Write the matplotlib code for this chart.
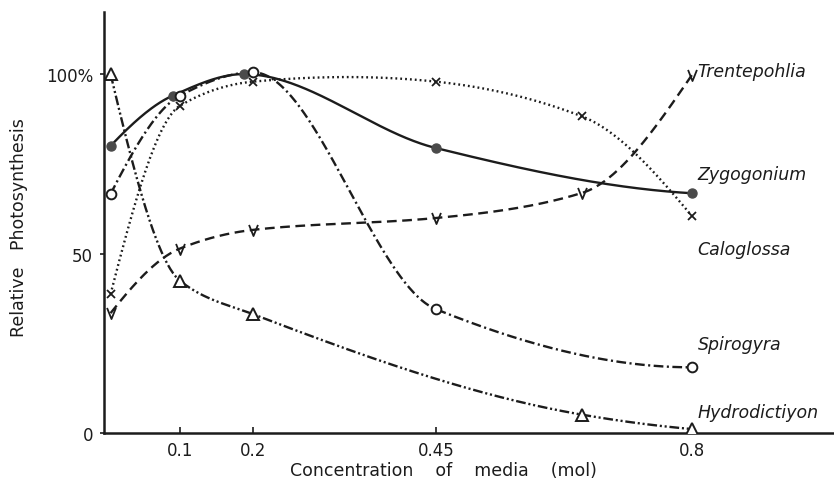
import numpy as np
import matplotlib
matplotlib.use("Agg")
import matplotlib.pyplot as plt
from matplotlib.path import Path

# ---------------- data ----------------
species = ["Trentepohlia", "Zygogonium", "Caloglossa", "Spirogyra", "Hydrodictiyon"]

trente_x = [0.005, 0.1, 0.2, 0.45, 0.65, 0.8]
trente_y = [33.4, 51.4, 56.6, 59.9, 66.9, 99.7]

zygo_x = [0.005, 0.09, 0.187, 0.45, 0.8]
zygo_y = [80.0, 94.0, 100.0, 79.4, 66.8]

calo_x = [0.005, 0.1, 0.2, 0.45, 0.65, 0.8]
calo_y = [38.7, 91.2, 97.9, 97.9, 88.2, 60.5]

spiro_x = [0.005, 0.1, 0.2, 0.45, 0.8]
spiro_y = [66.6, 94.0, 100.5, 34.5, 18.3]

hydro_x = [0.005, 0.1, 0.2, 0.65, 0.8]
hydro_y = [100.0, 42.4, 33.1, 5.1, 1.1]

x_ticks = [0.1, 0.2, 0.45, 0.8]
x_ticklabels = ["0.1", "0.2", "0.45", "0.8"]
y_ticks = [0, 50, 100]
y_ticklabels = ["0", "50", "100%"]

label_y = [100.8, 72.1, 51.3, 24.8, 5.8]


# ---------------- smooth curve helper (cubic Hermite, rendering only) ----------------
def smooth(x, y, xn, monotone=True):
    x = np.asarray(x, float); y = np.asarray(y, float)
    h = np.diff(x); d = np.diff(y) / h
    n = len(x)
    m = np.zeros(n)
    for k in range(1, n - 1):
        if d[k - 1] * d[k] > 0:
            w1 = 2 * h[k] + h[k - 1]
            w2 = h[k] + 2 * h[k - 1]
            m[k] = (w1 + w2) / (w1 / d[k - 1] + w2 / d[k])
        elif not monotone:
            m[k] = (y[k + 1] - y[k - 1]) / (x[k + 1] - x[k - 1])
    def endslope(h0, h1, d0, d1):
        s = ((2 * h0 + h1) * d0 - h0 * d1) / (h0 + h1)
        if np.sign(s) != np.sign(d0):
            s = 0.0
        elif np.sign(d0) != np.sign(d1) and abs(s) > 3 * abs(d0):
            s = 3 * d0
        return s
    m[0] = endslope(h[0], h[1], d[0], d[1])
    m[-1] = endslope(h[-1], h[-2], d[-1], d[-2])
    idx = np.clip(np.searchsorted(x, xn) - 1, 0, n - 2)
    t = (xn - x[idx]) / h[idx]
    h00 = 2 * t**3 - 3 * t**2 + 1
    h10 = t**3 - 2 * t**2 + t
    h01 = -2 * t**3 + 3 * t**2
    h11 = t**3 - t**2
    return h00 * y[idx] + h10 * h[idx] * m[idx] + h01 * y[idx + 1] + h11 * h[idx] * m[idx + 1]


# ---------------- figure ----------------
plt.rcParams["font.family"] = ["DejaVu Sans"]
plt.rcParams["lines.scale_dashes"] = False

fig = plt.figure(figsize=(8.34, 4.81), dpi=100)
ax = fig.add_axes([104 / 834, 47 / 481, 730 / 834, 421 / 481])
ax.set_xlim(-0.004, 0.9945)
ax.set_ylim(0, 117.3)

ink = "#1c1c1c"

v_marker = Path([(-0.8, 1.0), (0.0, -1.0), (0.8, 1.0)],
                [Path.MOVETO, Path.LINETO, Path.LINETO])

series = [
    (trente_x, trente_y, True, dict(dashes=(7, 4)),
     dict(marker=v_marker, ms=8, mfc="none", mec=ink, mew=1.3)),
    (zygo_x, zygo_y, True, dict(linestyle="-"),
     dict(marker="o", ms=6.5, mfc="#4a4a4a", mec="#4a4a4a")),
    (calo_x, calo_y, False, dict(dashes=(1.3, 2.2)),
     dict(marker="x", ms=6, mfc="none", mec=ink, mew=1.3)),
    (spiro_x, spiro_y, True, dict(dashes=(7, 2.5, 1.5, 2.5)),
     dict(marker="o", ms=7, mfc="white", mec=ink, mew=1.4)),
    (hydro_x, hydro_y, True, dict(dashes=(7, 2, 1.5, 2, 1.5, 2)),
     dict(marker="^", ms=8, mfc="white", mec=ink, mew=1.4)),
]

for xs, ys, mono, lstyle, mstyle in series:
    xn = np.linspace(xs[0], xs[-1], 400)
    yn = smooth(xs, ys, xn, monotone=mono)
    ax.plot(xn, yn, color=ink, lw=1.7, **lstyle, zorder=2)
    ax.plot(xs, ys, linestyle="none", zorder=3, **mstyle)

for name, ly in zip(species, label_y):
    ax.text(0.808, ly, name, fontsize=12.5, style="italic", color=ink,
            ha="left", va="center")

# axes styling
for side in ("top", "right"):
    ax.spines[side].set_visible(False)
for side in ("left", "bottom"):
    ax.spines[side].set_linewidth(1.8)
    ax.spines[side].set_color(ink)

ax.set_xticks(x_ticks)
ax.set_xticklabels(x_ticklabels)
ax.set_yticks(y_ticks)
ax.set_yticklabels(y_ticklabels)
ax.tick_params(axis="x", direction="in", length=4, width=1.2, pad=5.5,
               labelsize=12, colors=ink)
ax.tick_params(axis="y", direction="out", length=3, width=1.2, pad=5,
               labelsize=12, colors=ink)

ax.set_xlabel("Concentration    of    media    (mol)", fontsize=12.5, color=ink,
              labelpad=0)
ax.xaxis.set_label_coords((443 - 104) / 730, -28 / 421)
ax.set_ylabel("Relative   Photosynthesis", fontsize=12.5, color=ink)
ax.yaxis.set_label_coords(-76 / 730, (434 - 228) / 421)

fig.savefig("out.png", dpi=100)
